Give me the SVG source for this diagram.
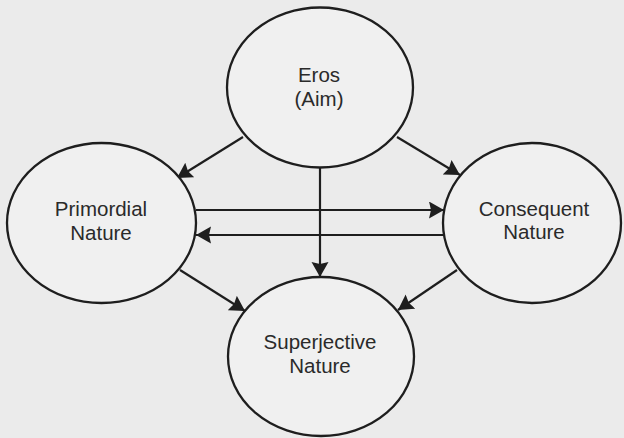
<svg xmlns="http://www.w3.org/2000/svg" width="624" height="438" viewBox="0 0 624 438">
  <style>
    .node ellipse { fill: #f0f0f0; stroke: #1e1e1e; stroke-width: 2.3; }
    .node text { font-family: "Liberation Sans", Arial, sans-serif; font-size: 20.5px; fill: #2a2a2a; text-anchor: middle; }
    .edge { stroke: #1e1e1e; stroke-width: 2.2; fill: none; marker-end: url(#arrow); }
  </style>
  <defs>
    <marker id="arrow" markerUnits="userSpaceOnUse" markerWidth="18" markerHeight="18" refX="15" refY="8.5" orient="auto">
      <path d="M0,0 L15,8.5 L0,17 L2,8.5 Z" fill="#1e1e1e"/>
    </marker>
  </defs>
  <rect x="0" y="0" width="624" height="438" fill="#ebebeb"/>
  <g id="connectors">
    <line class="edge" x1="243" y1="137" x2="177" y2="178"/>
    <line class="edge" x1="397" y1="137" x2="460" y2="175"/>
    <line class="edge" x1="196" y1="210" x2="444" y2="210"/>
    <line class="edge" x1="444" y1="235" x2="196" y2="235"/>
    <line class="edge" x1="320" y1="167" x2="320" y2="277"/>
    <line class="edge" x1="180" y1="270" x2="245" y2="311"/>
    <line class="edge" x1="457" y1="270" x2="398" y2="310"/>
  </g>
  <g id="eros" class="node">
    <ellipse cx="320" cy="87.5" rx="93" ry="80"/>
    <text x="319" y="82">Eros</text>
    <text x="319" y="106">(Aim)</text>
  </g>
  <g id="primordial" class="node">
    <ellipse cx="101.5" cy="223" rx="94.5" ry="80"/>
    <text x="101" y="216">Primordial</text>
    <text x="101" y="240">Nature</text>
  </g>
  <g id="consequent" class="node">
    <ellipse cx="532" cy="223" rx="89" ry="80"/>
    <text x="534" y="216">Consequent</text>
    <text x="534" y="239">Nature</text>
  </g>
  <g id="superjective" class="node">
    <ellipse cx="321" cy="356.5" rx="93" ry="79.5"/>
    <text x="320" y="349">Superjective</text>
    <text x="320" y="373">Nature</text>
  </g>
</svg>
